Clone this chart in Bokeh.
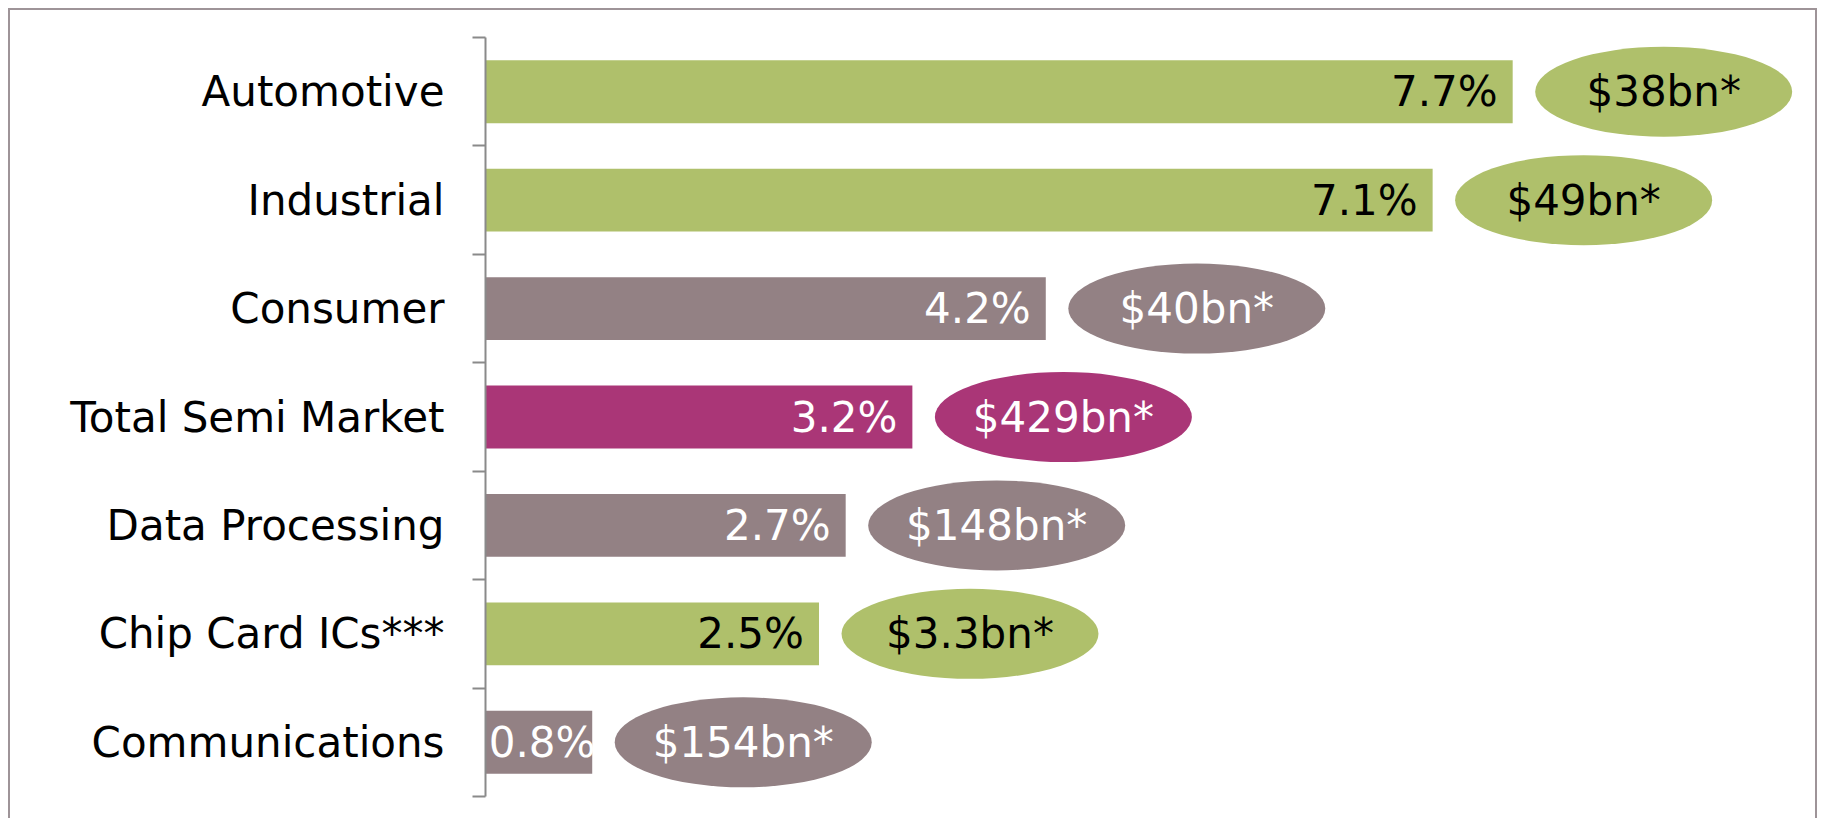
import numpy as np
from bokeh.plotting import figure
from bokeh.models import ColumnDataSource, Range1d, FixedTicker
from bokeh.core.properties import value
from bokeh.embed import file_html
from bokeh.resources import INLINE

# ---- data ----
categories = ["Automotive", "Industrial", "Consumer", "Total Semi Market",
              "Data Processing", "Chip Card ICs***", "Communications"]
growth = [7.7, 7.1, 4.2, 3.2, 2.7, 2.5, 0.8]
market_size = ["$38bn*", "$49bn*", "$40bn*", "$429bn*", "$148bn*", "$3.3bn*", "$154bn*"]
group = ["focus", "focus", "other", "total", "other", "focus", "other"]

# ---- styles ----
FILL = {"focus": "#afc06b", "other": "#938184", "total": "#aa3677"}
TEXT = {"focus": "#000000", "other": "#ffffff", "total": "#ffffff"}
FONT = "DejaVu Sans"
PX_PER_UNIT = 1334 / 10.0
BUBBLE_OFFSET = 151 / PX_PER_UNIT
LABEL_PAD = 15 / PX_PER_UNIT
LABEL_MIN = 110 / PX_PER_UNIT

ypos = list(range(len(categories)))
vals = np.array(growth)
src = ColumnDataSource(dict(
    y=ypos,
    v=growth,
    pct=[f"{g:.1f}%" for g in growth],
    pct_x=np.maximum(vals - LABEL_PAD, LABEL_MIN),
    bub_x=vals + BUBBLE_OFFSET,
    market=market_size,
    fill=[FILL[g] for g in group],
    tcol=[TEXT[g] for g in group],
))

p = figure(width=1809, height=810, output_backend="svg", toolbar_location=None,
           x_range=Range1d(0, 10), y_range=Range1d(len(categories) - 0.5, -0.5),
           x_axis_type=None, min_border_left=475, min_border_right=0,
           min_border_top=27, min_border_bottom=24)
p.styles = {"margin-left": "8px", "margin-top": "8px",
            "border-top": "2px solid #9e9498", "border-left": "2px solid #9e9498",
            "border-right": "2px solid #9e9498"}
p.background_fill_color = "white"
p.border_fill_color = "white"
p.outline_line_color = None
p.grid.visible = False

p.hbar(y="y", left=0, right="v", height=0.58, fill_color="fill", line_color=None, source=src)
p.text(x="pct_x", y="y", text="pct", text_color="tcol", text_align="right",
       text_baseline="middle", text_font=value(FONT), text_font_size="42px", source=src)
p.ellipse(x="bub_x", y="y", width=257, height=90, width_units="screen", height_units="screen",
          fill_color="fill", line_color=None, source=src)
p.text(x="bub_x", y="y", text="market", text_color="tcol", text_align="center",
       text_baseline="middle", text_font=value(FONT), text_font_size="42px", source=src)

ax = p.yaxis[0]
ax.ticker = FixedTicker(ticks=ypos, minor_ticks=[i - 0.5 for i in range(len(categories) + 1)])
ax.major_label_overrides = {i: c for i, c in enumerate(categories)}
ax.major_tick_out = 0
ax.major_tick_in = 0
ax.major_tick_line_color = None
ax.minor_tick_out = 13
ax.minor_tick_in = 0
ax.minor_tick_line_color = "#8a8a8a"
ax.minor_tick_line_width = 2
ax.axis_line_color = "#8a8a8a"
ax.axis_line_width = 2
ax.major_label_standoff = 28
ax.major_label_text_font = FONT
ax.major_label_text_font_size = "42px"
ax.major_label_text_color = "black"

open("out.html", "w").write(file_html(p, INLINE))
